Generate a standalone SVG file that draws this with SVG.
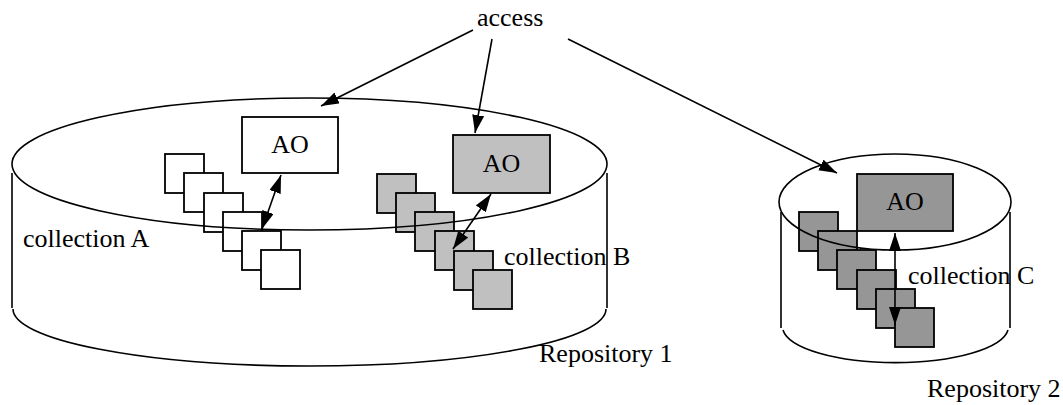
<svg xmlns="http://www.w3.org/2000/svg" width="1063" height="405" viewBox="0 0 1063 405">
  <style>
    .lbl { font-family: "Liberation Serif", "Times New Roman", serif; font-size: 26px; fill: #000; }
    .mid { text-anchor: middle; }
    .outline { fill: none; stroke: #000; stroke-width: 1.6; }
    .box { stroke: #000; stroke-width: 1.8; }
    .white { fill: #fff; }
    .light { fill: #c0c0c0; }
    .dark { fill: #969696; }
    .link { fill: none; stroke: #000; stroke-width: 1.6; }
  </style>
  <defs>
    <marker id="head" markerUnits="userSpaceOnUse" markerWidth="19" markerHeight="13" refX="18" refY="6" orient="auto-start-reverse">
      <path d="M0,0 L18,6 L0,12 z" fill="#000"/>
    </marker>
    <rect id="sq" width="39" height="39"/>
  </defs>
  <rect width="1063" height="405" fill="#fff"/>

  <!-- collection A: stacked white objects -->
  <g id="collectionA" class="box white">
    <use href="#sq" x="165" y="154"/>
    <use href="#sq" x="184" y="173"/>
    <use href="#sq" x="204" y="193"/>
    <use href="#sq" x="223" y="212"/>
    <use href="#sq" x="242" y="231"/>
    <use href="#sq" x="261" y="250"/>
  </g>

  <!-- collection B: stacked light grey objects -->
  <g id="collectionB" class="box light">
    <use href="#sq" x="377" y="174"/>
    <use href="#sq" x="396" y="193"/>
    <use href="#sq" x="415" y="212"/>
    <use href="#sq" x="435" y="231"/>
    <use href="#sq" x="454" y="251"/>
    <use href="#sq" x="473" y="270"/>
  </g>

  <!-- collection C: stacked dark grey objects -->
  <g id="collectionC" class="box dark">
    <use href="#sq" x="799" y="212"/>
    <use href="#sq" x="818" y="231"/>
    <use href="#sq" x="837" y="250"/>
    <use href="#sq" x="857" y="270"/>
    <use href="#sq" x="876" y="289"/>
    <use href="#sq" x="895" y="308"/>
  </g>

  <!-- Repository 1 cylinder -->
  <g id="repository1">
    <ellipse class="outline" cx="309.5" cy="164" rx="297.5" ry="66"/>
    <path class="outline" d="M12,173 L12,308 M607,173 L607,308 M13,309 A296.5,57 0 0 0 606,309"/>
    <text class="lbl" x="539" y="362">Repository 1</text>
  </g>

  <!-- Repository 2 cylinder -->
  <g id="repository2">
    <ellipse class="outline" cx="895" cy="202" rx="116" ry="48"/>
    <path class="outline" d="M781,212 L781,328 M1010,212 L1010,328 M783,330 A113,36 0 0 0 1008,330"/>
    <text class="lbl" x="927" y="397">Repository 2</text>
  </g>

  <!-- access objects -->
  <g id="aoA">
    <rect class="box white" x="242" y="117" width="96" height="56"/>
    <text class="lbl mid" x="290" y="153">AO</text>
  </g>
  <g id="aoB">
    <rect class="box light" x="453" y="135" width="97" height="58"/>
    <text class="lbl mid" x="501.5" y="172">AO</text>
  </g>
  <g id="aoC">
    <rect class="box dark" x="857" y="174" width="96" height="57"/>
    <text class="lbl mid" x="905" y="210">AO</text>
  </g>

  <!-- labels -->
  <g id="labels">
    <text class="lbl" x="477" y="26">access</text>
    <text class="lbl" x="23" y="247">collection A</text>
    <text class="lbl" x="504" y="265">collection B</text>
    <text class="lbl" x="908" y="284">collection C</text>
  </g>

  <!-- connectors -->
  <g id="connectors" class="link">
    <line x1="473" y1="30" x2="321" y2="106" marker-end="url(#head)"/>
    <line x1="492" y1="39" x2="475" y2="133" marker-end="url(#head)"/>
    <line x1="568" y1="39" x2="837" y2="173" marker-end="url(#head)"/>
    <line x1="262" y1="229" x2="281" y2="175" marker-start="url(#head)" marker-end="url(#head)"/>
    <line x1="453" y1="249" x2="491" y2="194" marker-start="url(#head)" marker-end="url(#head)"/>
    <line x1="895" y1="233" x2="895" y2="325" marker-start="url(#head)" marker-end="url(#head)"/>
  </g>
</svg>
